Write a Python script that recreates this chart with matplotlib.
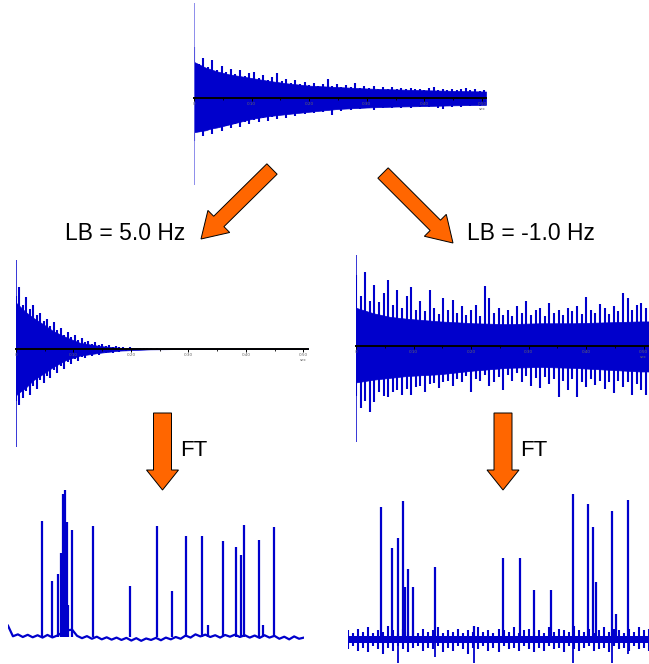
import matplotlib
matplotlib.use("Agg")
import matplotlib.pyplot as plt
import numpy as np
from matplotlib.patches import FancyArrow

W, H = 649, 664
BLUE = "#0000CC"
ORANGE = "#FF6600"
FONT = "Liberation Sans"

# ---------------- data ----------------
fid_ticks = [0.0, 0.10, 0.20, 0.30, 0.40, 0.50]
fid_tick_labels = ["0", "0.10", "0.20", "0.30", "0.40", "0.50\nsec"]
fid_minor = [0.05, 0.15, 0.25, 0.35, 0.45]

# ---- top (raw) FID: solid body envelope + sampled spike outline (every 0.008 s)
top_t = [0.0, 0.01, 0.02, 0.03, 0.04, 0.06, 0.08, 0.10, 0.13, 0.16, 0.20, 0.25, 0.30, 0.35, 0.40, 0.45, 0.507]
top_up = [0.38, 0.35, 0.32, 0.30, 0.28, 0.25, 0.23, 0.21, 0.18, 0.155, 0.13, 0.115, 0.10, 0.09, 0.082, 0.075, 0.068]
top_lo = [-0.36, -0.35, -0.34, -0.32, -0.31, -0.28, -0.25, -0.22, -0.19, -0.17, -0.145, -0.115, -0.10, -0.09, -0.085, -0.077, -0.072]
top_spk_step = 0.008
top_spk_up = [0.54, 0.36, 0.42, 0.33, 0.40, 0.30, 0.34, 0.27, 0.31, 0.25,
              0.29, 0.23, 0.26, 0.27, 0.21, 0.24, 0.19, 0.22, 0.26, 0.18,
              0.20, 0.16, 0.19, 0.15, 0.17, 0.14, 0.16, 0.13, 0.15, 0.20,
              0.13, 0.15, 0.12, 0.14, 0.12, 0.16, 0.11, 0.13, 0.11, 0.13,
              0.10, 0.12, 0.10, 0.12, 0.09, 0.11, 0.09, 0.11, 0.09, 0.10,
              0.085, 0.11, 0.12, 0.085, 0.10, 0.08, 0.095, 0.08, 0.10, 0.11,
              0.08, 0.095, 0.075, 0.085]
top_spk_lo = [-0.45, -0.36, -0.40, -0.34, -0.38, -0.31, -0.35, -0.29, -0.32, -0.27,
              -0.30, -0.25, -0.27, -0.23, -0.25, -0.21, -0.24, -0.20, -0.22, -0.18,
              -0.21, -0.17, -0.19, -0.15, -0.17, -0.14, -0.16, -0.13, -0.15, -0.12,
              -0.18, -0.12, -0.14, -0.11, -0.13, -0.10, -0.12, -0.10, -0.11, -0.125,
              -0.09, -0.11, -0.09, -0.10, -0.085, -0.10, -0.085, -0.105, -0.08, -0.095,
              -0.08, -0.09, -0.08, -0.10, -0.12, -0.08, -0.09, -0.075, -0.09, -0.075,
              -0.085, -0.07, -0.08, -0.075]
top_first = (1.0, -0.916)

# ---- LB = 5.0 Hz FID
lb5_t = [0.0, 0.005, 0.016, 0.03, 0.047, 0.065, 0.088, 0.111, 0.146, 0.18, 0.233, 0.30, 0.508]
lb5_up = [0.52, 0.49, 0.42, 0.35, 0.28, 0.20, 0.13, 0.07, 0.033, 0.014, 0.003, 0.0, 0.0]
lb5_lo = [-0.52, -0.49, -0.44, -0.35, -0.28, -0.20, -0.12, -0.075, -0.042, -0.018, -0.004, 0.0, 0.0]
lb5_spk_step = 0.006
lb5_spk_up = [0.60, 0.70, 0.50, 0.58, 0.45, 0.49, 0.38, 0.40, 0.31, 0.34,
              0.26, 0.30, 0.21, 0.24, 0.16, 0.19, 0.13, 0.16, 0.10, 0.12,
              0.075, 0.095, 0.06, 0.075, 0.045, 0.055, 0.035, 0.045, 0.025, 0.035,
              0.018, 0.025, 0.012, 0.02, 0.01, 0.015, 0.008, 0.012, 0.006, 0.01,
              0.004, 0.006, 0.002, 0.003]
lb5_spk_lo = [-0.58, -0.63, -0.55, -0.47, -0.52, -0.42, -0.45, -0.35, -0.38, -0.30,
              -0.33, -0.24, -0.27, -0.19, -0.22, -0.15, -0.17, -0.11, -0.13, -0.085,
              -0.10, -0.07, -0.08, -0.055, -0.065, -0.04, -0.05, -0.03, -0.04, -0.022,
              -0.03, -0.016, -0.022, -0.012, -0.016, -0.008, -0.012, -0.006, -0.009, -0.004,
              -0.006, -0.003, -0.004, -0.002]
lb5_first = (1.0, -1.10)

# ---- LB = -1.0 Hz FID
lbm1_t = [0.0, 0.01, 0.03, 0.059, 0.088, 0.146, 0.204, 0.262, 0.32, 0.378, 0.436, 0.494, 0.511]
lbm1_up = [0.42, 0.40, 0.36, 0.32, 0.30, 0.27, 0.25, 0.24, 0.25, 0.25, 0.26, 0.27, 0.27]
lbm1_lo = [-0.40, -0.39, -0.37, -0.35, -0.33, -0.31, -0.27, -0.24, -0.23, -0.24, -0.26, -0.28, -0.28]
lbm1_spk_step = 0.008
lbm1_spk_up = [0.78, 0.55, 0.81, 0.50, 0.67, 0.48, 0.58, 0.72, 0.45, 0.62,
               0.42, 0.55, 0.65, 0.40, 0.50, 0.38, 0.62, 0.42, 0.35, 0.53,
               0.40, 0.505, 0.36, 0.44, 0.34, 0.40, 0.45, 0.33, 0.66, 0.53,
               0.36, 0.42, 0.34, 0.40, 0.33, 0.44, 0.36, 0.49, 0.34, 0.40,
               0.42, 0.33, 0.47, 0.36, 0.40, 0.34, 0.42, 0.38, 0.44, 0.35,
               0.54, 0.40, 0.36, 0.46, 0.42, 0.35, 0.44, 0.38, 0.585, 0.53,
               0.40, 0.45, 0.47, 0.42]
lbm1_spk_lo = [-0.55, -0.68, -0.60, -0.72, -0.62, -0.50, -0.55, -0.56, -0.50, -0.48,
               -0.54, -0.47, -0.54, -0.45, -0.44, -0.50, -0.42, -0.41, -0.46, -0.40,
               -0.38, -0.44, -0.36, -0.40, -0.33, -0.50, -0.36, -0.38, -0.32, -0.44,
               -0.40, -0.34, -0.48, -0.32, -0.38, -0.30, -0.40, -0.33, -0.44, -0.35,
               -0.46, -0.34, -0.42, -0.36, -0.56, -0.38, -0.48, -0.36, -0.56, -0.40,
               -0.45, -0.36, -0.43, -0.38, -0.47, -0.40, -0.52, -0.38, -0.45, -0.40,
               -0.54, -0.42, -0.48, -0.54]
lbm1_first = (1.0, -1.055)

# ---- spectra (ppm, relative height)
spec5_ppm = [8.85, 8.51, 8.31, 8.21, 8.18, 8.14, 8.11, 8.07, 8.05, 8.04, 8.01, 7.98, 7.84, 7.13, 5.88, 4.97,
             4.46, 3.99, 3.45, 3.24, 2.74, 2.30, 2.13, 2.03, 1.52, 1.39, 1.01]
spec5_h = [0.79, 0.38, 0.43, 0.57, 0.45, 0.97, 0.35, 1.00, 0.62, 0.74, 0.78, 0.22, 0.73, 0.755, 0.35, 0.755,
           0.31, 0.69, 0.69, 0.08, 0.65, 0.61, 0.56, 0.76, 0.66, 0.08, 0.75]
# baseline trace sampled every 1/6 ppm from 10 to 0
spec5_base = [0.077, 0.005, 0.018, 0.0, 0.015, -0.002, 0.012, -0.004, 0.014, -0.003,
              0.010, 0.030, 0.045, 0.050, 0.008, -0.008, 0.006, -0.012, 0.002, -0.016,
              -0.002, -0.018, -0.004, -0.020, -0.006, -0.024, -0.008, -0.026, -0.010, -0.020,
              -0.006, -0.022, -0.004, -0.016, 0.000, -0.012, 0.010, -0.004, 0.018, 0.004,
              0.016, 0.0, 0.012, -0.004, 0.014, 0.002, 0.016, 0.0, 0.012, -0.004,
              0.010, -0.006, 0.012, -0.004, 0.008, -0.012, 0.002, -0.016, 0.004, -0.012,
              -0.004]

specm1_ppm = [8.90, 8.54, 8.34, 8.17, 8.12, 8.01, 7.84, 7.11, 5.81, 4.85, 4.29, 3.82, 3.26, 2.52, 2.03, 1.86,
              1.76, 1.23, 1.10, 0.70]
specm1_h = [0.91, 0.63, 0.70, 0.95, 0.36, 0.48, 0.36, 0.50, 0.09, 0.56, 0.56, 0.34, 0.34, 1.00, 0.93, 0.77,
            0.39, 0.88, 0.17, 0.96]
specm1_neg_ppm = [8.34, 7.11, 5.81, 2.52, 1.23, 0.70]
specm1_neg = [-0.166, -0.124, -0.166, -0.166, -0.166, -0.10]
specm1_core = (0.02, -0.03)
# noise extremes sampled every 1/6 ppm from 10 to 0
specm1_noise_up = [0.06, 0.04, 0.07, 0.05, 0.08, 0.04, 0.06, 0.05, 0.09, 0.06,
                   0.04, 0.07, 0.05, 0.06, 0.04, 0.07, 0.05, 0.06, 0.08, 0.04,
                   0.06, 0.05, 0.07, 0.04, 0.06, 0.05, 0.08, 0.05, 0.06, 0.04,
                   0.07, 0.06, 0.05, 0.08, 0.04, 0.06, 0.07, 0.05, 0.06, 0.04,
                   0.08, 0.05, 0.07, 0.06, 0.05, 0.09, 0.06, 0.05, 0.07, 0.04,
                   0.06, 0.08, 0.05, 0.07, 0.06, 0.04, 0.07, 0.05, 0.08, 0.06,
                   0.07]
specm1_noise_lo = [-0.07, -0.05, -0.08, -0.06, -0.09, -0.05, -0.07, -0.10, -0.06, -0.08,
                   -0.05, -0.07, -0.09, -0.06, -0.05, -0.08, -0.06, -0.07, -0.05, -0.09,
                   -0.06, -0.08, -0.05, -0.07, -0.10, -0.06, -0.07, -0.05, -0.08, -0.06,
                   -0.09, -0.05, -0.07, -0.06, -0.08, -0.05, -0.07, -0.09, -0.06, -0.08,
                   -0.05, -0.07, -0.06, -0.09, -0.05, -0.07, -0.08, -0.06, -0.05, -0.08,
                   -0.07, -0.06, -0.09, -0.05, -0.07, -0.06, -0.08, -0.05, -0.07, -0.06,
                   -0.08]

# ---------------- figure ----------------
fig = plt.figure(figsize=(W / 100, H / 100), dpi=100)
fig.patch.set_facecolor("white")


def panel(x0, x1, y_zero, scale, ylo, yhi):
    top = y_zero - yhi * scale
    bottom = y_zero - ylo * scale
    ax = fig.add_axes([x0 / W, 1 - bottom / H, (x1 - x0) / W, (bottom - top) / H])
    ax.set_ylim(ylo, yhi)
    ax.patch.set_alpha(0)
    return ax


def draw_fid(ax, tmax, t, up, lo, step, s_up, s_lo, first, first_color):
    ax.set_xlim(0, tmax)
    ax.fill_between(t, lo, up, color=BLUE, lw=0.5, zorder=1)
    ts = np.arange(len(s_up)) * step
    ax.vlines(ts, s_lo, s_up, color=BLUE, lw=1.5, zorder=1)
    ax.vlines([0.0], first[1], first[0], color=first_color, lw=1.1, zorder=1)
    for s in ("top", "left", "right"):
        ax.spines[s].set_visible(False)
    ax.spines["bottom"].set_position(("data", 0))
    ax.spines["bottom"].set_linewidth(1.4)
    ax.spines["bottom"].set_zorder(3)
    ax.set_yticks([])
    ax.set_xticks(fid_ticks)
    ax.set_xticklabels(fid_tick_labels)
    ax.set_xticks(fid_minor, minor=True)
    ax.tick_params(axis="x", which="major", direction="out", length=2.2, width=0.7,
                   labelsize=3, labelcolor="#666666", pad=1)
    ax.tick_params(axis="x", which="minor", direction="out", length=1.6, width=0.6)


ax_top = panel(194, 486, 98, 95, -0.95, 1.03)
draw_fid(ax_top, 0.507, top_t, top_up, top_lo, top_spk_step, top_spk_up, top_spk_lo,
         top_first, "#6f6fe6")

ax_l = panel(16, 308, 349, 89, -1.13, 1.03)
draw_fid(ax_l, 0.508, lb5_t, lb5_up, lb5_lo, lb5_spk_step, lb5_spk_up, lb5_spk_lo,
         lb5_first, BLUE)

ax_r = panel(356, 650, 346, 91, -1.08, 1.03)
draw_fid(ax_r, 0.511, lbm1_t, lbm1_up, lbm1_lo, lbm1_spk_step, lbm1_spk_up, lbm1_spk_lo,
         lbm1_first, BLUE)

# spectrum LB = 5.0
ax_s1 = panel(8, 304, 637, 147, -0.09, 1.04)
ax_s1.set_xlim(10, 0)
ax_s1.plot(np.linspace(10, 0, len(spec5_base)), spec5_base, color=BLUE, lw=1.6)
ax_s1.vlines(spec5_ppm, 0, spec5_h, color=BLUE, lw=1.6)
ax_s1.axis("off")

# spectrum LB = -1.0
ax_s2 = panel(348, 649, 639, 145, -0.175, 1.06)
ax_s2.set_xlim(10, 0)
ax_s2.axhspan(specm1_core[1], specm1_core[0], color=BLUE, lw=0)
noise_x = np.linspace(10, 0, len(specm1_noise_up))
ax_s2.vlines(noise_x, specm1_noise_lo, specm1_noise_up, color=BLUE, lw=1.5)
ax_s2.vlines(specm1_ppm, 0, specm1_h, color=BLUE, lw=1.6)
ax_s2.vlines(specm1_neg_ppm, specm1_neg, 0, color=BLUE, lw=1.3)
ax_s2.axis("off")

# ---------------- overlay: arrows and labels ----------------
ov = fig.add_axes([0, 0, 1, 1])
ov.set_xlim(0, W)
ov.set_ylim(H, 0)
ov.axis("off")
ov.patch.set_alpha(0)


def arrow(x0, y0, x1, y1, width, hw, hl):
    ov.add_patch(FancyArrow(x0, y0, x1 - x0, y1 - y0, width=width, head_width=hw, head_length=hl,
                            length_includes_head=True, fc=ORANGE, ec="black", lw=0.7, zorder=5))


arrow(272, 169, 201, 239, 14.6, 31, 25)
arrow(383, 173, 453, 243, 14.6, 31, 25)
arrow(162.5, 413, 162.5, 490, 18, 32, 20)
arrow(503, 413, 503, 490, 18, 32, 20)

ov.text(65, 239.5, "LB = 5.0 Hz", fontsize=16.5, family=FONT, ha="left", va="baseline")
ov.text(467, 239.5, "LB = -1.0 Hz", fontsize=16.5, family=FONT, ha="left", va="baseline")
ov.text(180.5, 456, "FT", fontsize=16, family=FONT, ha="left", va="baseline")
ov.text(520.5, 456, "FT", fontsize=16, family=FONT, ha="left", va="baseline")

fig.savefig("out.png", dpi=100, facecolor="white")
